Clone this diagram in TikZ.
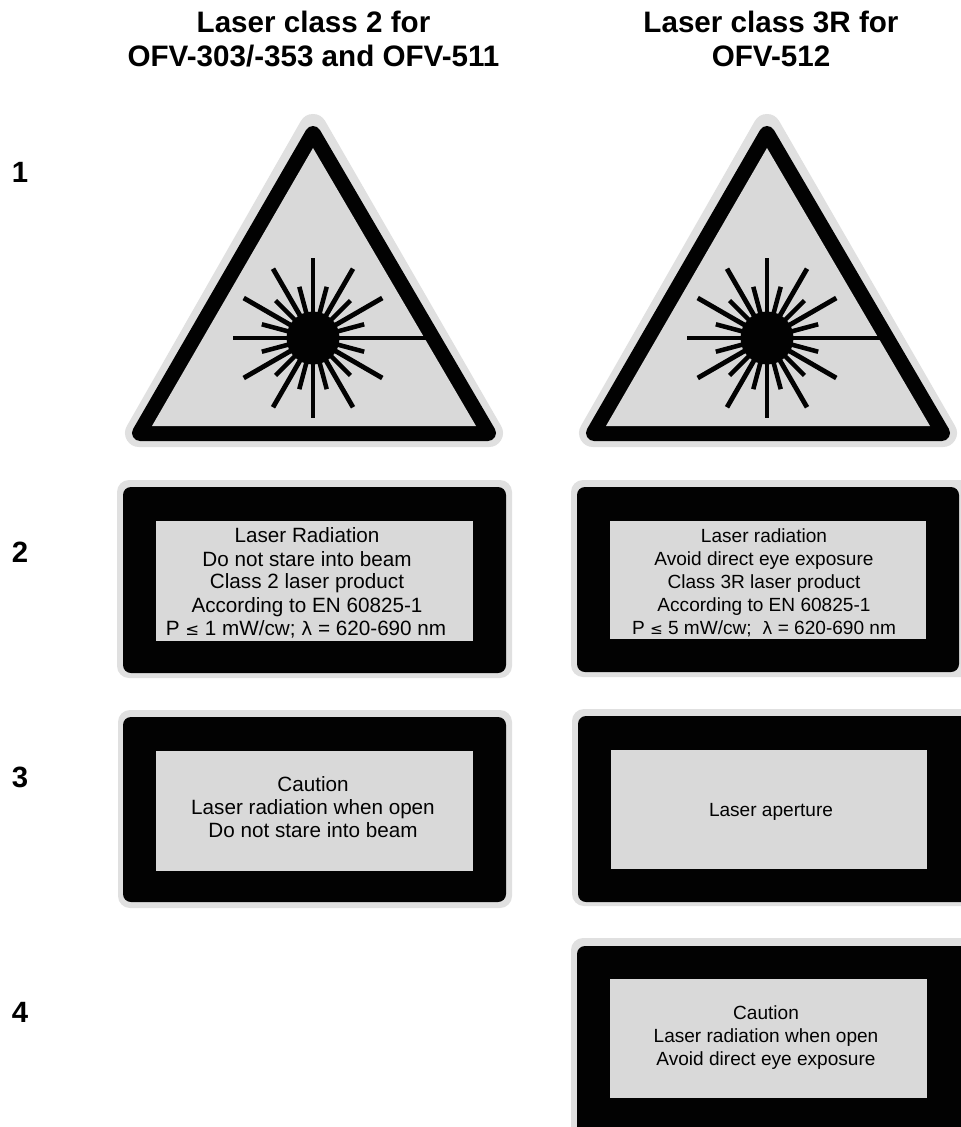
\documentclass[tikz,border=0pt]{standalone}
\usepackage{fontspec}
\setmainfont{Liberation Sans}
\newfontfamily\symfont{DejaVu Sans}
\definecolor{pale}{HTML}{E0E0E0}
\definecolor{panel}{HTML}{D9D9D9}
\definecolor{ink}{HTML}{020202}
\newcommand{\lelt}{{\fontsize{0.8em}{0.8em}\selectfont\symfont ≤}}
\newcommand{\lam}{{\fontsize{0.9em}{0.9em}\selectfont\symfont λ}}
\tikzset{
  x=0.75pt, y=-0.75pt,
  headtext/.style={font=\fontsize{22.2}{22.2}\selectfont\bfseries, anchor=base, inner sep=0, align=center},
  rownum/.style={font=\fontsize{22}{22}\selectfont\bfseries, anchor=base, inner sep=0},
  signtextL/.style={font=\fontsize{15.5}{15.5}\selectfont, anchor=base, inner sep=0, text=ink},
  signtextR/.style={font=\fontsize{14.3}{14.3}\selectfont, anchor=base, inner sep=0, text=ink},
  plate/.style={fill=pale, rounded corners=9pt},
  band/.style={fill=ink, rounded corners=6pt},
  panelbox/.style={fill=panel},
  longray/.style={draw=ink, line width=3.6pt},
  shortray/.style={draw=ink, line width=3.4pt},
}
\newcommand{\lasersign}[1]{%
  \begin{scope}[xshift=#1*0.75pt]
    \fill[pale, draw=pale, line width=21pt, line join=round] (313,128) -- (139,433) -- (489,433) -- cycle;
    \fill[ink, draw=ink, line width=12pt, line join=round] (313,134) -- (140,433) -- (488,433) -- cycle;
    \fill[panel] (313,148) -- (152,426) -- (476,426) -- cycle;
    \foreach \a in {30,60,90,120,150,180,210,240,270,300,330}
      \draw[longray] (313,338) -- ++(\a:80 and -80);
    \foreach \a in {15,45,75,105,135,165,195,225,255,285,315,345}
      \draw[shortray] (313,338) -- ++(\a:53 and -53);
    \draw[longray] (313,338) -- (429,338);
    \fill[ink] (313,338) circle[radius=26.5];
  \end{scope}}
\begin{document}
\begin{tikzpicture}
\useasboundingbox (0,0) rectangle (960,1127);
\fill[white] (0,0) rectangle (960,1127);
% headings
\node[headtext] (h1a) at (313.5,33) {Laser class 2 for};
\node[headtext] (h1b) at (313.5,67) {OFV-303/-353 and OFV-511};
\node[headtext] (h2a) at (771,33) {Laser class 3R for};
\node[headtext] (h2b) at (771,67) {OFV-512};
% row numbers
\node[rownum] (r1) at (20,182) {1};
\node[rownum] (r2) at (20,562) {2};
\node[rownum] (r3) at (20,787) {3};
\node[rownum] (r4) at (20,1022) {4};
% triangles
\lasersign{0}
\lasersign{454}
% left row 2
\fill[plate] (117,480) rectangle (512,678);
\fill[band] (123,487) rectangle (506,673);
\fill[panelbox] (156,521) rectangle (473,641);
\node[signtextL] (l2a) at (307,542) {Laser Radiation};
\node[signtextL] (l2b) at (307,566) {Do not stare into beam};
\node[signtextL] (l2c) at (307,588) {Class 2 laser product};
\node[signtextL] (l2d) at (307,612) {According to EN 60825-1};
\node[signtextL] (l2e) at (306,635) {P \lelt\ 1 mW/cw; \lam\ = 620-690 nm};
% left row 3
\fill[plate] (118,710) rectangle (512,908);
\fill[band] (123,717) rectangle (506,902);
\fill[panelbox] (156,751) rectangle (473,871);
\node[signtextL] (l3a) at (313,791) {Caution};
\node[signtextL] (l3b) at (313,814) {Laser radiation when open};
\node[signtextL] (l3c) at (313,837) {Do not stare into beam};
% right row 2
\fill[plate] (571,480) rectangle (975,677);
\fill[band] (577,487) rectangle (959,672);
\fill[panelbox] (610,521) rectangle (926,639);
\node[signtextR] (r2a) at (764,542) {Laser radiation};
\node[signtextR] (r2b) at (764,565) {Avoid direct eye exposure};
\node[signtextR] (r2c) at (764,588) {Class 3R laser product};
\node[signtextR] (r2d) at (764,611) {According to EN 60825-1};
\node[signtextR] (r2e) at (764,634) {P \lelt\ 5 mW/cw;\ \ \lam\ = 620-690 nm};
% right row 3
\fill[plate] (572,709) rectangle (975,906);
\fill[band] (578,716) rectangle (975,902);
\fill[panelbox] (611,750) rectangle (927,869);
\node[signtextR] (r3a) at (771,816) {Laser aperture};
% right row 4
\fill[plate] (571,938) rectangle (975,1150);
\fill[band] (577,946) rectangle (975,1150);
\fill[panelbox] (610,979) rectangle (927,1098);
\node[signtextR] (r4a) at (766,1019) {Caution};
\node[signtextR] (r4b) at (766,1042) {Laser radiation when open};
\node[signtextR] (r4c) at (766,1065) {Avoid direct eye exposure};
\end{tikzpicture}
\end{document}
